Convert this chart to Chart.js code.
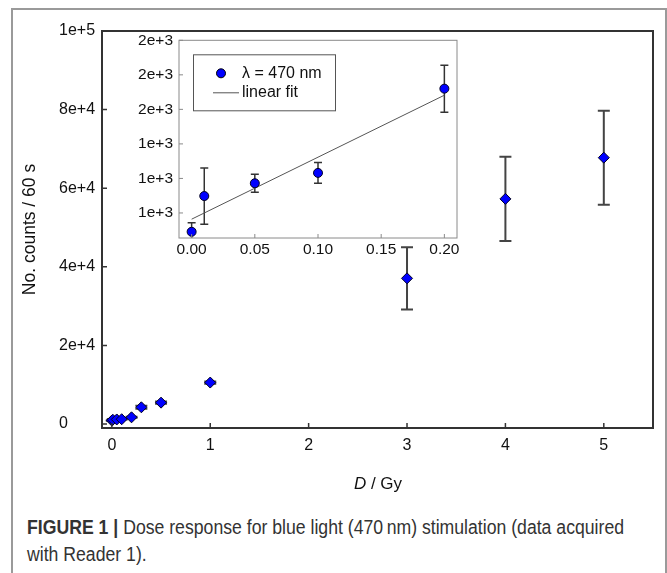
<!DOCTYPE html>
<html><head><meta charset="utf-8">
<script src="https://cdn.jsdelivr.net/npm/chart.js@4.4.1/dist/chart.umd.min.js"></script>
<style>
html,body{margin:0;padding:0;background:#fff;width:667px;height:573px;overflow:hidden;font-family:"Liberation Sans",Arial,sans-serif;}
#frame{position:absolute;left:11px;top:8px;width:652px;height:620px;border:2px solid #9a9a9a;}
#main{position:absolute;left:0;top:0;}
#inset{position:absolute;left:120px;top:25px;}
#xtitle{position:absolute;left:278px;width:200px;top:474px;text-align:center;font-size:17px;line-height:20px;color:#111;}
#caption{position:absolute;left:27px;top:514px;width:700px;font-family:"Liberation Sans",Arial,sans-serif;font-size:19.5px;line-height:27px;color:#333;white-space:nowrap;transform:scaleX(0.905);transform-origin:0 0;}
</style></head><body>
<div id="frame"></div>
<canvas id="main" width="667" height="500"></canvas>
<canvas id="inset" width="350" height="240"></canvas>
<div id="xtitle"><i>D</i> / Gy</div>
<div id="caption"><b>FIGURE 1 |</b> Dose response for blue light (470&thinsp;nm) stimulation (data acquired<br>with Reader 1).</div>
<script>
// ---- main chart data ----
const mainDose = [0, 0.01, 0.05, 0.1, 0.2, 0.3, 0.5, 1, 3, 4, 5];
const mainCounts = [891, 1098, 1172, 1232, 1720, 4270, 5450, 10560, 37080, 57290, 67770];
const mainErr = [52, 163, 52, 60, 136, 400, 300, 300, 7930, 10740, 11950];
const mainXTicks = [0, 1, 2, 3, 4, 5];
const mainXTickLabels = ['0', '1', '2', '3', '4', '5'];
const mainYTicks = [0, 20000, 40000, 60000, 80000, 100000];
const mainYTickLabels = ['0', '2e+4', '4e+4', '6e+4', '8e+4', '1e+5'];

// ---- inset data ----
const insetDose = [0, 0.01, 0.05, 0.1, 0.2];
const insetCounts = [891, 1098, 1172, 1232, 1720];
const insetErr = [52, 163, 52, 60, 136];
const fitDose = [0, 0.2];
const fitCounts = [964, 1682];
const insetXTicks = [0, 0.05, 0.1, 0.15, 0.2];
const insetXTickLabels = ['0.00', '0.05', '0.10', '0.15', '0.20'];
const insetYTicks = [1000, 1200, 1400, 1600, 1800, 2000];
const insetYTickLabels = ['1e+3', '1e+3', '1e+3', '2e+3', '2e+3', '2e+3'];
const legendLabels = ['\u03bb = 470 nm', 'linear fit'];

const FAM = '"Liberation Sans", Arial, sans-serif';

const errorBars = {
  id: 'errorBars',
  beforeDatasetsDraw(chart, args, o) {
    const {ctx, chartArea: a, scales: {x, y}} = chart;
    ctx.save();
    ctx.beginPath();
    ctx.rect(a.left, a.top, a.right - a.left, a.bottom - a.top);
    ctx.clip();
    ctx.strokeStyle = o.color; ctx.lineWidth = o.width;
    o.xs.forEach((xv, i) => {
      const px = x.getPixelForValue(xv);
      const t = y.getPixelForValue(o.ys[i] + o.errs[i]);
      const b = y.getPixelForValue(o.ys[i] - o.errs[i]);
      ctx.beginPath();
      ctx.moveTo(px, t); ctx.lineTo(px, b);
      ctx.moveTo(px - o.cap, t); ctx.lineTo(px + o.cap, t);
      ctx.moveTo(px - o.cap, b); ctx.lineTo(px + o.cap, b);
      ctx.stroke();
    });
    ctx.restore();
  }
};

const axisDecor = {
  id: 'axisDecor',
  afterDraw(chart, args, o) {
    const {ctx, chartArea: a, scales: {x, y}} = chart;
    ctx.save();
    ctx.strokeStyle = o.color; ctx.lineWidth = o.width;
    ctx.strokeRect(a.left, a.top, a.right - a.left, a.bottom - a.top);
    ctx.strokeStyle = o.tickColor; ctx.lineWidth = o.tickWidth;
    ctx.beginPath();
    x.ticks.forEach(t => { const px = x.getPixelForValue(t.value); ctx.moveTo(px, a.bottom); ctx.lineTo(px, a.bottom - o.len); });
    y.ticks.forEach(t => { const py = y.getPixelForValue(t.value); ctx.moveTo(a.left, py); ctx.lineTo(a.left + o.len, py); });
    ctx.stroke();
    ctx.restore();
  }
};

const insetLegend = {
  id: 'insetLegend',
  afterDraw(chart) {
    const {ctx, chartArea: a} = chart;
    ctx.save();
    ctx.fillStyle = '#fff';
    ctx.strokeStyle = '#555'; ctx.lineWidth = 1;
    ctx.fillRect(a.left + 14, a.top + 14, 142, 56);
    ctx.strokeRect(a.left + 14.5, a.top + 14.5, 142, 56);
    ctx.beginPath();
    ctx.arc(a.left + 42, a.top + 33, 4.5, 0, Math.PI * 2);
    ctx.fillStyle = '#0000ff'; ctx.fill();
    ctx.strokeStyle = '#000'; ctx.stroke();
    ctx.beginPath();
    ctx.strokeStyle = '#555';
    ctx.moveTo(a.left + 34, a.top + 52.5); ctx.lineTo(a.left + 60, a.top + 52.5);
    ctx.stroke();
    ctx.fillStyle = '#111';
    ctx.font = '16px ' + FAM;
    ctx.textBaseline = 'middle';
    ctx.fillText(legendLabels[0], a.left + 63, a.top + 33);
    ctx.fillText(legendLabels[1], a.left + 63, a.top + 52);
    ctx.restore();
  }
};

new Chart(document.getElementById('main'), {
  type: 'scatter',
  data: {
    datasets: [{
      data: mainDose.map((d, i) => ({x: d, y: mainCounts[i]})),
      pointStyle: 'rectRot', pointRadius: 5.5, pointHoverRadius: 5.5,
      backgroundColor: '#0000ff', borderColor: '#000022', borderWidth: 1
    }]
  },
  options: {
    responsive: false, animation: false, events: [],
    layout: {padding: {left: 59, top: 31, right: 14, bottom: 0}},
    plugins: {
      legend: {display: false}, tooltip: {enabled: false},
      errorBars: {xs: mainDose, ys: mainCounts, errs: mainErr, color: '#444', width: 2, cap: 6},
      axisDecor: {color: '#333', width: 2, tickColor: '#333', tickWidth: 1.5, len: 5}
    },
    scales: {
      x: {
        type: 'linear', min: -0.1, max: 5.5,
        grid: {display: false, drawTicks: false}, border: {display: false},
        ticks: {padding: 8, color: '#111', font: {size: 16, family: FAM},
          callback: v => mainXTickLabels[mainXTicks.indexOf(v)]},
        afterBuildTicks: s => { s.ticks = mainXTicks.map(v => ({value: v})); },
        afterFit: s => { s.height = 72; }
      },
      y: {
        type: 'linear', min: -1000, max: 100000,
        grid: {display: false, drawTicks: false}, border: {display: false},
        ticks: {padding: 7, crossAlign: 'far', color: '#111', font: {size: 16, family: FAM},
          callback: v => mainYTickLabels[mainYTicks.indexOf(v)]},
        afterBuildTicks: s => { s.ticks = mainYTicks.map(v => ({value: v})); },
        afterFit: s => { s.width = 43; },
        title: {display: true, text: 'No. counts / 60 s', color: '#111',
          font: {size: 17.5, family: FAM}, padding: {top: -39.5, bottom: 0}}
      }
    }
  },
  plugins: [errorBars, axisDecor]
});

new Chart(document.getElementById('inset'), {
  type: 'scatter',
  data: {
    datasets: [{
      data: insetDose.map((d, i) => ({x: d, y: insetCounts[i]})),
      pointStyle: 'circle', pointRadius: 4.5, pointHoverRadius: 4.5,
      backgroundColor: '#0000ff', borderColor: '#000022', borderWidth: 1
    }, {
      type: 'line',
      data: fitDose.map((d, i) => ({x: d, y: fitCounts[i]})),
      borderColor: '#555', borderWidth: 1, pointRadius: 0, fill: false
    }]
  },
  options: {
    responsive: false, animation: false, events: [],
    layout: {padding: {left: 0, top: 14, right: 13, bottom: 0}},
    plugins: {
      legend: {display: false}, tooltip: {enabled: false},
      errorBars: {xs: insetDose, ys: insetCounts, errs: insetErr, color: '#333', width: 1.5, cap: 4},
      axisDecor: {color: '#8a8a8a', width: 1, tickColor: '#8a8a8a', tickWidth: 1, len: 4}
    },
    scales: {
      x: {
        type: 'linear', min: -0.01, max: 0.21,
        grid: {display: false, drawTicks: false}, border: {display: false},
        ticks: {padding: 2, color: '#111', font: {size: 15.5, family: FAM},
          callback: v => insetXTickLabels[insetXTicks.indexOf(v)]},
        afterBuildTicks: s => { s.ticks = insetXTicks.map(v => ({value: v})); },
        afterFit: s => { s.height = 27; }
      },
      y: {
        type: 'linear', min: 855, max: 2000,
        grid: {display: false, drawTicks: false}, border: {display: false},
        ticks: {padding: 6, color: '#111', font: {size: 15.5, family: FAM},
          callback: v => insetYTickLabels[insetYTicks.indexOf(v)]},
        afterBuildTicks: s => { s.ticks = insetYTicks.map(v => ({value: v})); },
        afterFit: s => { s.width = 59; }
      }
    }
  },
  plugins: [errorBars, axisDecor, insetLegend]
});
</script>
</body></html>
